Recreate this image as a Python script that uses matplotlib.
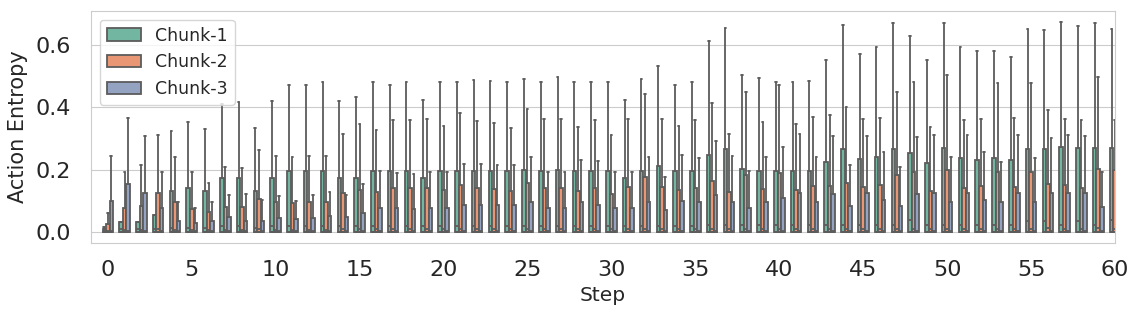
import matplotlib
matplotlib.use('Agg')
import matplotlib.pyplot as plt
from matplotlib.patches import Patch
import seaborn as sns

sns.set_style('whitegrid')

steps = list(range(61))
chunks = ['Chunk-1', 'Chunk-2', 'Chunk-3']

# box top (q3) and upper whisker for each chunk
c1_q3 = [0.010, 0.033, 0.032, 0.056, 0.134, 0.143, 0.134, 0.174, 0.174, 0.134,
         0.174, 0.196, 0.196, 0.196, 0.174, 0.174, 0.196, 0.196, 0.196, 0.174,
         0.196, 0.196, 0.196, 0.196, 0.196, 0.200, 0.196, 0.200, 0.196, 0.196,
         0.196, 0.174, 0.197, 0.214, 0.196, 0.196, 0.248, 0.266, 0.202, 0.198,
         0.196, 0.196, 0.196, 0.226, 0.266, 0.235, 0.241, 0.268, 0.254, 0.222,
         0.270, 0.239, 0.233, 0.238, 0.231, 0.266, 0.266, 0.275, 0.269, 0.269,
         0.269]
c1_hi = [0.018, 0.033, 0.032, 0.056, 0.325, 0.354, 0.332, 0.410, 0.417, 0.333,
         0.421, 0.471, 0.471, 0.481, 0.421, 0.434, 0.482, 0.471, 0.482, 0.423,
         0.482, 0.482, 0.489, 0.486, 0.482, 0.491, 0.482, 0.498, 0.482, 0.482,
         0.483, 0.425, 0.491, 0.532, 0.473, 0.483, 0.613, 0.656, 0.505, 0.493,
         0.483, 0.483, 0.485, 0.553, 0.663, 0.571, 0.595, 0.670, 0.629, 0.551,
         0.671, 0.595, 0.580, 0.581, 0.561, 0.652, 0.648, 0.675, 0.662, 0.671,
         0.651]
c1_med = [0.005, 0.010, 0.010, 0.012, 0.015, 0.015, 0.015, 0.020, 0.020, 0.015,
          0.020, 0.020, 0.020, 0.020, 0.020, 0.020, 0.020, 0.020, 0.020, 0.020,
          0.020, 0.020, 0.020, 0.020, 0.020, 0.020, 0.020, 0.020, 0.020, 0.020,
          0.020, 0.020, 0.020, 0.020, 0.020, 0.020, 0.025, 0.025, 0.025, 0.025,
          0.025, 0.025, 0.025, 0.025, 0.025, 0.025, 0.025, 0.025, 0.040, 0.025,
          0.025, 0.025, 0.025, 0.025, 0.025, 0.035, 0.035, 0.025, 0.035, 0.025,
          0.040]

c2_q3 = [0.026, 0.077, 0.085, 0.125, 0.096, 0.075, 0.064, 0.080, 0.080, 0.107,
         0.096, 0.095, 0.096, 0.096, 0.125, 0.136, 0.130, 0.143, 0.143, 0.143,
         0.135, 0.151, 0.143, 0.138, 0.132, 0.158, 0.143, 0.143, 0.132, 0.142,
         0.123, 0.144, 0.177, 0.144, 0.135, 0.143, 0.166, 0.128, 0.184, 0.140,
         0.190, 0.137, 0.150, 0.147, 0.158, 0.144, 0.152, 0.185, 0.193, 0.134,
         0.200, 0.141, 0.147, 0.194, 0.144, 0.192, 0.155, 0.151, 0.143, 0.202,
         0.200]
c2_hi = [0.063, 0.194, 0.216, 0.312, 0.243, 0.193, 0.158, 0.208, 0.206, 0.264,
         0.246, 0.241, 0.244, 0.244, 0.314, 0.346, 0.327, 0.360, 0.360, 0.362,
         0.340, 0.382, 0.357, 0.350, 0.333, 0.394, 0.363, 0.363, 0.337, 0.360,
         0.312, 0.362, 0.444, 0.363, 0.342, 0.359, 0.415, 0.314, 0.451, 0.353,
         0.471, 0.346, 0.368, 0.376, 0.400, 0.362, 0.365, 0.450, 0.483, 0.337,
         0.504, 0.360, 0.362, 0.478, 0.365, 0.478, 0.392, 0.363, 0.360, 0.499,
         0.360]
c2_med = [0.004, 0.008, 0.008, 0.010, 0.008, 0.008, 0.008, 0.008, 0.008, 0.010,
          0.008, 0.008, 0.008, 0.008, 0.010, 0.010, 0.010, 0.010, 0.010, 0.010,
          0.010, 0.010, 0.010, 0.010, 0.010, 0.010, 0.010, 0.010, 0.010, 0.010,
          0.010, 0.010, 0.012, 0.010, 0.010, 0.010, 0.012, 0.010, 0.012, 0.010,
          0.012, 0.010, 0.010, 0.010, 0.012, 0.010, 0.010, 0.012, 0.012, 0.010,
          0.012, 0.010, 0.010, 0.012, 0.010, 0.012, 0.015, 0.012, 0.012, 0.015,
          0.012]

c3_q3 = [0.100, 0.154, 0.127, 0.078, 0.038, 0.031, 0.038, 0.048, 0.037, 0.038,
         0.046, 0.042, 0.045, 0.053, 0.048, 0.061, 0.077, 0.077, 0.074, 0.078,
         0.078, 0.088, 0.087, 0.087, 0.087, 0.097, 0.078, 0.078, 0.097, 0.089,
         0.078, 0.078, 0.096, 0.073, 0.100, 0.096, 0.119, 0.097, 0.078, 0.096,
         0.109, 0.126, 0.096, 0.122, 0.085, 0.126, 0.104, 0.084, 0.123, 0.125,
         0.096, 0.125, 0.104, 0.096, 0.125, 0.096, 0.125, 0.125, 0.125, 0.080,
         0.100]
c3_hi = [0.244, 0.367, 0.310, 0.194, 0.097, 0.079, 0.097, 0.120, 0.122, 0.103,
         0.118, 0.100, 0.121, 0.130, 0.121, 0.154, 0.197, 0.191, 0.186, 0.194,
         0.194, 0.219, 0.218, 0.215, 0.217, 0.243, 0.194, 0.193, 0.232, 0.228,
         0.192, 0.193, 0.243, 0.176, 0.247, 0.239, 0.294, 0.246, 0.196, 0.243,
         0.272, 0.314, 0.243, 0.308, 0.216, 0.310, 0.259, 0.210, 0.307, 0.312,
         0.243, 0.312, 0.259, 0.226, 0.312, 0.239, 0.303, 0.311, 0.310, 0.194,
         0.250]
c3_med = [0.006, 0.006, 0.006, 0.005, 0.004, 0.004, 0.004, 0.004, 0.004, 0.004,
          0.004, 0.004, 0.004, 0.004, 0.004, 0.005, 0.005, 0.005, 0.005, 0.005,
          0.005, 0.005, 0.005, 0.005, 0.005, 0.005, 0.005, 0.005, 0.005, 0.005,
          0.005, 0.005, 0.005, 0.005, 0.005, 0.005, 0.006, 0.005, 0.005, 0.005,
          0.005, 0.006, 0.005, 0.006, 0.005, 0.006, 0.005, 0.005, 0.006, 0.006,
          0.005, 0.006, 0.005, 0.005, 0.006, 0.005, 0.006, 0.006, 0.006, 0.005,
          0.005]

series = [(c1_q3, c1_hi, c1_med), (c2_q3, c2_hi, c2_med), (c3_q3, c3_hi, c3_med)]

colors = [sns.desaturate(c, 0.75) for c in sns.color_palette('Set2', 3)]
edge = '#5c5c5c'
lw = 1.3

fig, ax = plt.subplots(figsize=(11.42, 3.2), dpi=100)
fig.subplots_adjust(left=0.0797, right=0.9764, bottom=0.2406, top=0.9656)

width = 0.63 / 3
for i, (q3s, his, meds) in enumerate(series):
    offset = (i - 1) * width
    stats = [dict(whislo=0.0, q1=0.0, med=m, q3=q, whishi=h, fliers=[])
             for q, h, m in zip(q3s, his, meds)]
    ax.bxp(stats, positions=[s + offset for s in steps], widths=width,
           capwidths=width * 0.5, patch_artist=True, showfliers=False,
           manage_ticks=False,
           boxprops=dict(facecolor=colors[i], edgecolor=edge, linewidth=lw),
           whiskerprops=dict(color=edge, linewidth=lw),
           capprops=dict(color=edge, linewidth=lw),
           medianprops=dict(color=edge, linewidth=lw))

ax.set_xlim(-1, 60)
ax.set_ylim(-0.034, 0.709)
ax.set_xticks(range(0, 61, 5))
ax.set_yticks([0.0, 0.2, 0.4, 0.6])
ax.set_yticklabels(['0.0', '0.2', '0.4', '0.6'])
ax.xaxis.grid(False)
ax.tick_params(axis='x', labelsize=16, pad=9, colors='#262626')
ax.tick_params(axis='y', labelsize=16, pad=11, colors='#262626')
ax.set_xlabel('Step', fontsize=14.5, color='#262626')
ax.set_ylabel('Action Entropy', fontsize=15, color='#262626', labelpad=5)

handles = [Patch(facecolor=colors[i], edgecolor=edge, linewidth=lw, label=chunks[i])
           for i in range(3)]
ax.legend(handles=handles, loc='upper left', fontsize=12.5)

plt.savefig('out.png', dpi=100)
